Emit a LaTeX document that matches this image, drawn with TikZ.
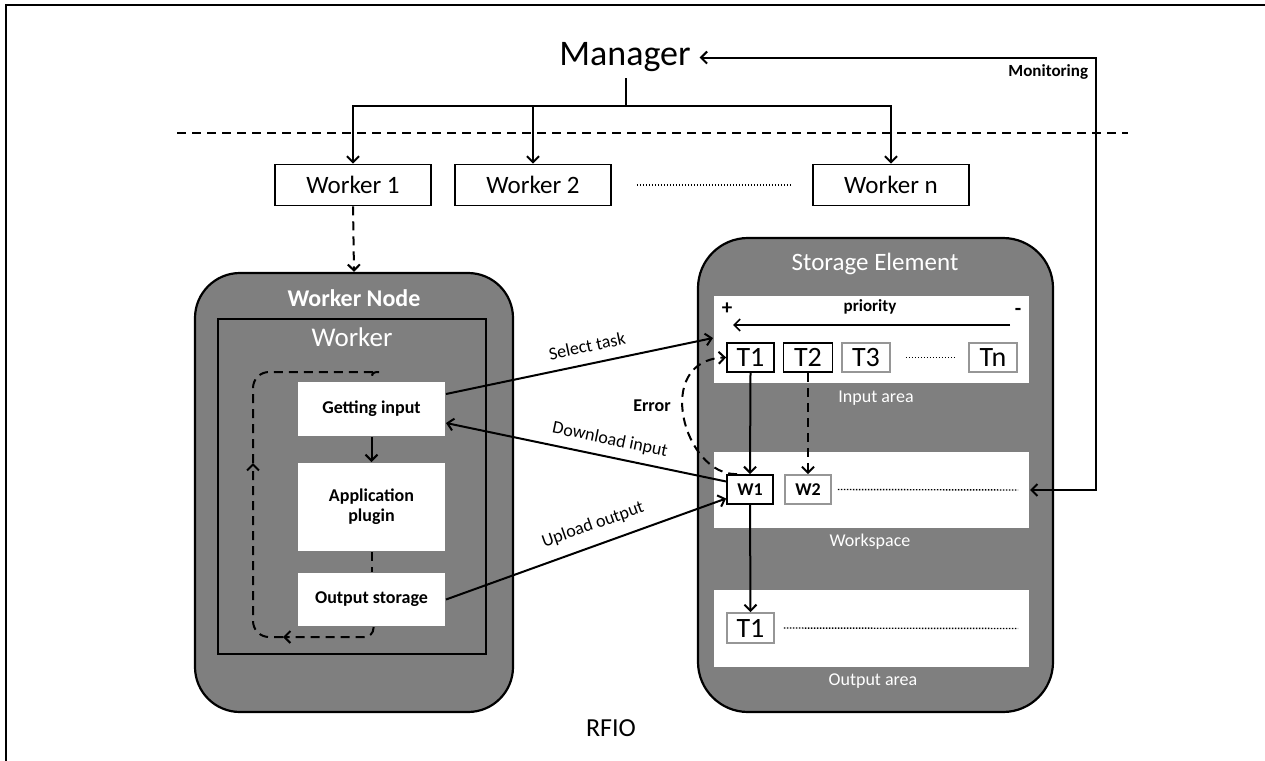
\documentclass[tikz,border=0pt]{standalone}
\usepackage{fontspec}
\setmainfont{Carlito}
\usetikzlibrary{arrows.meta,calc}
\definecolor{panel}{RGB}{127,127,127}
\definecolor{softline}{RGB}{150,150,150}
\newcommand{\myfs}[1]{\fontsize{#1}{#1}\selectfont}
\begin{document}
\begin{tikzpicture}[x=1pt,y=-1pt,line width=2pt,
  arr/.style={-{Straight Barb[length=6pt,width=12pt]}},
  arrboth/.style={{Straight Barb[length=6pt,width=12pt]}-{Straight Barb[length=6pt,width=12pt]}},
  dsh/.style={dash pattern=on 9pt off 6pt},
  dotline/.style={line width=1.4pt,dash pattern=on 1.4pt off 1.6pt},
  workerbox/.style={draw,line width=1.8pt,fill=white,minimum width=156pt,minimum height=41pt,inner sep=0pt,font=\myfs{25}},
  panelbox/.style={draw,line width=2.2pt,fill=panel},
  whitebox/.style={fill=white,inner sep=0pt,minimum width=147pt,font=\bfseries\myfs{18},align=center},
  areabox/.style={fill=white,inner sep=0pt,minimum width=315pt},
  taskbox/.style={draw,line width=1.8pt,fill=white,inner sep=0pt,minimum height=29pt,font=\myfs{28}},
  softtask/.style={taskbox,draw=softline},
  wtask/.style={draw,line width=1.8pt,fill=white,inner sep=0pt,minimum width=46pt,minimum height=29pt,font=\bfseries\myfs{18}},
  whitelabel/.style={text=white,inner sep=0pt},
  lbl/.style={inner sep=0pt,font=\myfs{18}},
]
\useasboundingbox (0,0) rectangle (1265,760);
% frame
\coordinate (ftl) at (6,5);
\coordinate (fbl) at (6,762);
\coordinate (ftr) at (1267,5);
\draw[line width=2.6pt] (fbl) -- (ftl) -- (ftr);

% manager
\node[anchor=base,inner xsep=8pt,inner ysep=0pt,font=\myfs{36}] (mgr) at (625,66) {Manager};
\node[anchor=east,inner sep=0pt,font=\bfseries\myfs{17}] (monl) at (1089,72) {Monitoring};

% workers
\node[workerbox] (w1) at (353,185) {Worker 1};
\node[workerbox] (w2) at (533,185) {Worker 2};
\node[workerbox] (wn) at (891,185) {Worker n};
\draw[dotline] ($(w2.east)+(25,0)$) -- ($(wn.west)+(-22,0)$);

\coordinate (stemtop) at (626,78);
\coordinate (split) at (626,106);
\draw (stemtop) -- (split);
\draw[arr] (split) -| (w1.north);
\draw[arr] (split) -| (w2.north);
\draw[arr] (split) -| (wn.north);

\coordinate (dl) at (177,133);
\coordinate (dr) at (1128,133);
\draw[dsh] (dl) -- (dr);

% worker node
\node[panelbox,rounded corners=45pt,minimum width=318pt,minimum height=439pt] (wnode) at (354,492.5) {};
\node[whitelabel,font=\bfseries\myfs{24}] (wnt) at (354,298) {Worker Node};
\node[draw,line width=2pt,minimum width=268pt,minimum height=335pt] (wk) at (352,486.5) {};
\node[whitelabel,font=\myfs{27}] (wkt) at (352,337) {Worker};
\draw[arr,dsh] (w1.south) -- (wnode.north);

\node[whitebox,minimum height=54pt] (gi) at (371.5,409) {Getting input};
\node[whitebox,minimum height=88pt] (ap) at (371.5,507) {Application\\[2pt]plugin};
\node[whitebox,minimum height=53pt] (os) at (371.5,599.5) {Output storage};
\draw[arr] (gi.south) -- (ap.north);
\draw[dsh] (ap.south) -- (os.north);

\coordinate (loopA) at (283,637);
\coordinate (loopB) at (253,463);
\coordinate (loopC) at (363,372);
\draw[dsh,arr,rounded corners=9pt] ($(os.south)+(2,0)$) |- (loopA);
\draw[dsh,arr,rounded corners=16pt] (loopA) -| (loopB);
\draw[dsh,rounded corners=16pt] (loopB) |- (loopC) .. controls (369,372) and (373,376) .. ($(gi.north)+(1.5,0)$);

% storage element
\node[panelbox,rounded corners=50pt,minimum width=355pt,minimum height=474pt] (se) at (875.5,475) {};
\node[whitelabel,font=\myfs{25}] (set) at (875,264) {Storage Element};
\node[areabox,minimum height=87pt] (ia) at (871.5,339.5) {};
\node[whitelabel,font=\myfs{18}] (iat) at (876,398) {Input area};
\node[areabox,minimum height=76pt] (ws) at (871.5,490) {};
\node[whitelabel,font=\myfs{18}] (wst) at (870,542) {Workspace};
\node[areabox,minimum height=77pt] (oa) at (871.5,628.5) {};
\node[whitelabel,font=\myfs{18}] (oat) at (873,681) {Output area};

\node[inner sep=0pt,font=\bfseries\myfs{21}] (plus) at (727,309) {+};
\node[inner sep=0pt,font=\bfseries\myfs{21}] (minus) at (1018,312) {-};
\node[inner sep=0pt,font=\bfseries\myfs{17}] (prio) at (870,307) {priority};
\coordinate (pr) at (1010,325);
\coordinate (pl) at (733,325);
\draw[arr,line width=1.6pt] (pr) -- (pl);

\node[taskbox,minimum width=47pt] (t1) at (750.5,357.5) {T1};
\node[taskbox,minimum width=49pt] (t2) at (808,357.5) {T2};
\node[softtask,minimum width=48pt] (t3) at (866,357.5) {T3};
\node[softtask,minimum width=48pt] (tn) at (993,357.5) {Tn};
\draw[dotline] ($(t3.east)+(15,0)$) -- ($(tn.west)+(-14,0)$);

\node[wtask] (wa) at (750,489.5) {W1};
\node[wtask,draw=softline] (wb) at (808,489.5) {W2};
\draw[dotline] ($(wb.east)+(6,0)$) -- ($(ws.east)+(-12,0)$);

\node[softtask,minimum width=47pt,minimum height=30pt] (ot1) at (750.5,628) {T1};
\draw[dotline] ($(ot1.east)+(9,0)$) -- ($(oa.east)+(-12,0)$);

\draw[arr] (t1.south) -- (wa.north);
\draw[arr,dsh] (t2.south) -- (wb.north);
\draw[arr] (wa.south) -- (ot1.north);

\draw[arr,dsh] ($(wa.north west)+(11,0)$) .. controls (684,476) and (652,360) .. (t1.west);
\node[inner sep=0pt,font=\bfseries\myfs{18}] (err) at (652,406) {Error};

% monitoring
\coordinate (mon) at (1096,0);
\draw[arrboth] (mgr.east) -- (mgr.east -| mon) -- (ws.east -| mon) -- (ws.east);

% connectors between worker and storage
\draw[arr] ($(gi.east)+(0,-15)$) -- ($(ia.west)+(0,-1.5)$);
\node[lbl,rotate=12] (selt) at (587,346) {Select task};
\draw[arr] ($(wa.west)+(0,-8)$) -- ($(gi.east)+(0,14)$);
\node[lbl,rotate=-11.7] (dlt) at (610,440) {Download input};
\draw[arr] (os.east) -- ($(wa.west)+(0,9)$);
\node[lbl,rotate=19.5] (ult) at (593,525) {Upload output};

\node[inner sep=0pt,font=\myfs{26}] (rfio) at (611,728) {RFIO};
\end{tikzpicture}
\end{document}
